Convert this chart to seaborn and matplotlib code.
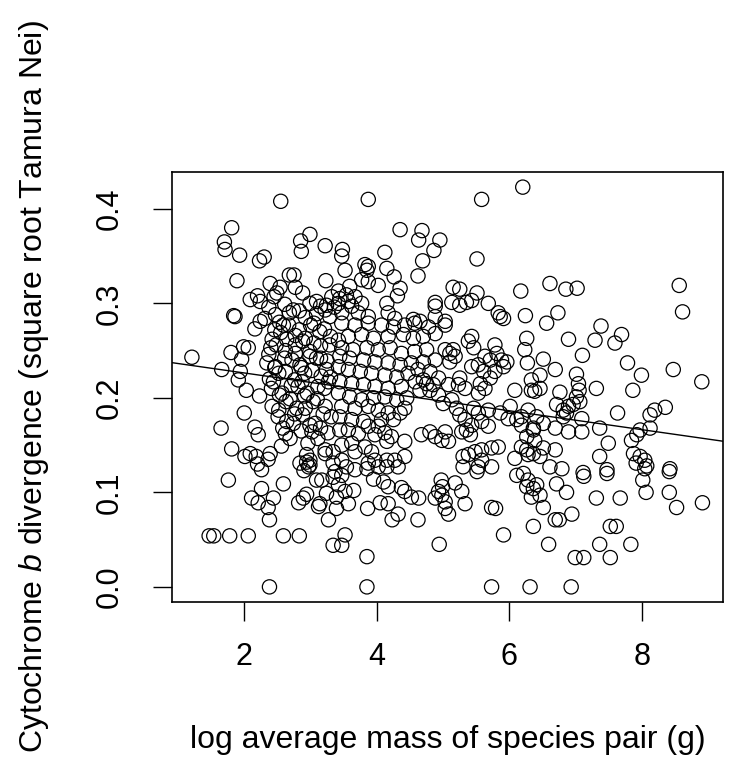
import numpy as np
import pandas as pd
import seaborn as sns
import matplotlib.pyplot as plt

# values, grouped by plot region
top_left_mass = [2.55, 1.81, 1.70, 1.71, 1.93, 2.23, 2.30, 2.85, 2.99, 2.86,
                 3.22, 1.89, 3.23, 2.68, 2.75, 2.39, 2.54, 2.49, 2.77, 2.88,
                 2.09, 2.20, 2.24, 2.45, 1.84, 1.86, 3.09, 3.24, 3.32, 3.42]
top_left_div = [0.408, 0.380, 0.365, 0.357, 0.351, 0.345, 0.349, 0.366, 0.373, 0.355,
                0.361, 0.324, 0.324, 0.330, 0.330, 0.321, 0.317, 0.311, 0.317, 0.311,
                0.304, 0.308, 0.302, 0.307, 0.287, 0.286, 0.302, 0.298, 0.307, 0.300]

top_mid_mass = [3.87, 5.58, 6.20, 4.35, 4.68, 4.63, 4.95, 4.86, 4.12, 4.69,
                4.62, 3.48, 3.47, 3.52, 5.51, 4.15, 3.82, 3.87, 3.85, 3.77,
                3.87, 4.02, 4.26, 4.35, 4.31, 4.15, 3.59, 3.54, 3.44, 3.67,
                4.88, 4.88, 5.15, 5.25, 5.51, 5.13, 5.25, 5.35, 5.43, 5.68,
                5.83, 5.86, 5.91, 6.17, 6.24, 3.47, 3.72, 3.87, 4.17, 4.27,
                4.55, 4.65, 4.88, 5.03, 3.42, 3.57, 3.62, 3.77]
top_mid_div = [0.410, 0.410, 0.423, 0.378, 0.377, 0.367, 0.367, 0.356, 0.354, 0.345,
               0.329, 0.357, 0.350, 0.335, 0.347, 0.337, 0.341, 0.339, 0.335, 0.325,
               0.323, 0.319, 0.328, 0.316, 0.308, 0.300, 0.318, 0.309, 0.305, 0.307,
               0.301, 0.297, 0.317, 0.315, 0.311, 0.301, 0.298, 0.301, 0.303, 0.300,
               0.290, 0.286, 0.284, 0.313, 0.287, 0.290, 0.290, 0.286, 0.290, 0.284,
               0.283, 0.281, 0.286, 0.281, 0.313, 0.302, 0.297, 0.300]

top_right_mass = [6.61, 6.85, 7.02, 8.56, 8.61, 6.73, 6.56, 7.38]
top_right_div = [0.321, 0.315, 0.316, 0.319, 0.291, 0.290, 0.279, 0.276]

mid_left_mass = [1.21, 1.66, 1.80, 1.99, 2.06, 1.96, 1.94, 1.91, 2.03, 2.23,
                 2.34, 2.00, 1.65, 2.16, 2.21, 1.81, 2.01, 2.09, 2.18, 2.36,
                 2.56, 2.20, 2.24, 2.16, 2.94, 2.99, 3.22, 3.34]
mid_left_div = [0.243, 0.230, 0.248, 0.254, 0.253, 0.241, 0.228, 0.219, 0.208, 0.202,
                0.237, 0.184, 0.168, 0.169, 0.161, 0.146, 0.138, 0.141, 0.138, 0.135,
                0.149, 0.130, 0.281, 0.273, 0.132, 0.129, 0.141, 0.143]

low_left_mass = [1.76, 2.26, 2.26, 2.11, 2.21, 2.44, 2.36, 2.38, 2.59, 2.82,
                 2.89, 2.94, 2.90, 2.97, 3.09, 3.17, 3.34, 3.14, 3.12, 3.24,
                 3.27, 3.39, 3.39, 3.34, 1.47, 1.54, 1.78, 2.06, 2.59, 2.83,
                 2.38]
low_left_div = [0.113, 0.124, 0.104, 0.094, 0.089, 0.094, 0.084, 0.071, 0.109, 0.089,
                0.094, 0.098, 0.123, 0.127, 0.113, 0.113, 0.116, 0.088, 0.085, 0.099,
                0.071, 0.095, 0.083, 0.044, 0.054, 0.054, 0.054, 0.054, 0.054, 0.054,
                0.000]

low_mid_mass = [3.37, 3.47, 3.42, 3.52, 3.65, 3.57, 3.67, 3.85, 4.02, 4.15,
                4.32, 3.95, 4.10, 4.17, 4.37, 4.42, 3.86, 4.05, 4.17, 4.32,
                4.23, 4.52, 4.63, 4.62, 4.88, 4.98, 4.93, 5.03, 4.97, 4.99,
                5.18, 5.28, 5.33, 5.03, 5.08, 5.30, 5.51, 5.73, 5.79, 4.94,
                5.91, 3.52, 3.47, 3.85, 3.85, 5.73, 6.31, 6.11, 6.21, 6.28,
                6.26, 6.33]
low_mid_div = [0.122, 0.118, 0.108, 0.101, 0.102, 0.088, 0.124, 0.125, 0.127, 0.127,
               0.127, 0.114, 0.111, 0.106, 0.105, 0.101, 0.083, 0.089, 0.088, 0.077,
               0.071, 0.095, 0.094, 0.071, 0.094, 0.097, 0.101, 0.090, 0.113, 0.106,
               0.110, 0.101, 0.088, 0.083, 0.077, 0.127, 0.122, 0.084, 0.083, 0.045,
               0.055, 0.055, 0.044, 0.032, 0.000, 0.000, 0.000, 0.118, 0.120, 0.113,
               0.106, 0.095]

low_right_mass = [6.93, 6.36, 6.59, 6.99, 7.12, 7.52, 7.36, 7.83, 7.52, 7.61,
                  6.69, 6.75, 6.94, 6.51, 6.46, 6.36, 6.41, 6.71, 6.86, 6.79,
                  7.11, 7.12, 7.47, 7.47, 7.31, 7.67, 8.01, 8.06, 8.04, 8.41,
                  8.41, 8.52, 8.91]
low_right_div = [0.000, 0.064, 0.045, 0.031, 0.031, 0.031, 0.045, 0.045, 0.064, 0.064,
                 0.071, 0.071, 0.077, 0.084, 0.097, 0.104, 0.108, 0.109, 0.100, 0.125,
                 0.121, 0.117, 0.124, 0.120, 0.094, 0.094, 0.113, 0.100, 0.125, 0.122,
                 0.100, 0.084, 0.089]

mid_right_mass = [6.89, 7.29, 7.59, 7.69, 7.10, 6.51, 6.69, 7.78, 7.99, 8.47,
                  8.90, 7.01, 6.46, 7.04, 7.05, 7.01, 7.06, 7.31, 7.86, 6.76,
                  6.46, 6.38, 6.71, 6.81, 6.89, 6.96, 6.81, 6.86, 7.09, 7.63,
                  8.12, 8.19, 8.35, 6.41, 6.51, 6.36, 6.69, 6.89, 7.09, 7.36,
                  7.97, 7.92, 8.12, 7.49, 7.84, 6.38, 6.51, 6.69, 6.46, 7.36,
                  7.87, 7.97, 8.04, 7.91, 8.07, 8.42, 6.61]
mid_right_div = [0.262, 0.261, 0.258, 0.267, 0.245, 0.241, 0.230, 0.237, 0.224, 0.230,
                 0.217, 0.225, 0.224, 0.215, 0.208, 0.201, 0.196, 0.210, 0.208, 0.206,
                 0.210, 0.207, 0.193, 0.187, 0.191, 0.193, 0.180, 0.184, 0.178, 0.184,
                 0.182, 0.187, 0.190, 0.180, 0.173, 0.166, 0.168, 0.164, 0.164, 0.168,
                 0.166, 0.161, 0.168, 0.152, 0.155, 0.155, 0.147, 0.145, 0.138, 0.138,
                 0.141, 0.138, 0.134, 0.131, 0.128, 0.125, 0.127]

mid_centre_mass = [5.43, 5.38, 5.46, 5.78, 5.81, 6.26, 6.23, 6.27, 5.88, 5.96,
                   5.91, 5.63, 5.71, 5.53, 5.43, 5.61, 5.78, 5.71, 5.10, 5.18,
                   5.10, 5.03, 5.15, 5.25, 5.23, 5.33, 5.56, 5.63, 5.53, 6.08,
                   6.33, 6.33, 6.01, 5.46, 5.53, 5.68, 5.86, 5.98, 6.11, 6.18,
                   6.18, 5.20, 5.25, 5.33, 5.43, 5.58, 5.68, 5.28, 5.41, 5.35,
                   6.28, 6.26, 6.36, 4.93, 4.85, 4.80, 5.00, 5.13, 5.08, 4.93,
                   4.75, 4.65, 4.70, 4.58, 4.45, 4.42, 4.35, 4.17, 4.25, 4.07,
                   4.02, 4.12, 3.97, 4.15, 4.22, 4.42, 4.67, 4.80, 4.88, 4.98,
                   5.08, 5.03, 5.30, 5.38, 5.48, 5.58, 5.73, 5.83, 6.18, 6.26,
                   6.28, 6.36, 6.08, 5.58, 5.53, 5.73, 4.42, 4.27, 4.15, 3.97,
                   3.87, 3.47, 3.54]
mid_centre_div = [0.265, 0.260, 0.253, 0.256, 0.247, 0.263, 0.251, 0.237, 0.240, 0.238,
                  0.233, 0.244, 0.240, 0.235, 0.233, 0.228, 0.228, 0.221, 0.247, 0.244,
                  0.238, 0.251, 0.251, 0.221, 0.214, 0.210, 0.215, 0.210, 0.205, 0.208,
                  0.208, 0.219, 0.191, 0.189, 0.184, 0.187, 0.184, 0.178, 0.177, 0.171,
                  0.180, 0.189, 0.182, 0.177, 0.171, 0.175, 0.170, 0.164, 0.161, 0.166,
                  0.187, 0.159, 0.168, 0.221, 0.214, 0.208, 0.194, 0.198, 0.214, 0.203,
                  0.215, 0.208, 0.219, 0.217, 0.200, 0.189, 0.184, 0.184, 0.177, 0.177,
                  0.170, 0.163, 0.161, 0.154, 0.159, 0.154, 0.161, 0.164, 0.159, 0.155,
                  0.154, 0.164, 0.138, 0.140, 0.143, 0.145, 0.147, 0.148, 0.148, 0.145,
                  0.140, 0.141, 0.136, 0.134, 0.127, 0.127, 0.138, 0.134, 0.134, 0.134,
                  0.131, 0.134, 0.127]

centre_upper_mass = [3.47, 3.67, 3.87, 4.07, 4.25, 4.42, 4.57, 4.78, 5.03, 4.88,
                     4.70, 4.55, 4.40, 4.17, 3.95, 3.77, 3.57, 3.42, 3.47, 3.64,
                     3.85, 4.02, 4.20, 4.37, 4.57, 4.75, 4.88, 4.70, 4.52, 4.35,
                     4.17, 3.97, 3.80, 3.59, 3.44, 3.42, 3.57, 3.75, 3.92, 4.12,
                     4.30, 4.47, 4.62, 4.80, 4.37, 4.17, 3.97, 3.80, 3.62, 3.44,
                     3.42, 3.59, 3.77, 3.95, 4.12, 4.30, 3.87, 4.02, 3.67, 3.47,
                     3.44, 3.62, 3.80, 3.57, 3.72, 3.87, 3.44, 3.62, 3.82, 3.47,
                     3.67, 3.92]
centre_upper_div = [0.279, 0.277, 0.279, 0.277, 0.275, 0.277, 0.279, 0.275, 0.277, 0.268,
                    0.265, 0.263, 0.267, 0.265, 0.263, 0.267, 0.265, 0.261, 0.253, 0.251,
                    0.253, 0.251, 0.253, 0.247, 0.249, 0.251, 0.240, 0.238, 0.237, 0.235,
                    0.237, 0.238, 0.240, 0.242, 0.244, 0.233, 0.230, 0.228, 0.226, 0.224,
                    0.222, 0.226, 0.230, 0.228, 0.212, 0.210, 0.212, 0.214, 0.215, 0.217,
                    0.205, 0.201, 0.198, 0.200, 0.201, 0.198, 0.191, 0.187, 0.189, 0.191,
                    0.180, 0.177, 0.175, 0.166, 0.162, 0.170, 0.166, 0.152, 0.148, 0.150,
                    0.143, 0.143]

core_mass = [2.37, 2.61, 2.74, 2.99, 3.15, 3.36, 2.31, 2.53, 2.67, 2.92,
             3.05, 3.29, 2.42, 2.55, 2.77, 2.92, 3.14, 3.30, 2.40, 2.62,
             2.77, 2.99, 3.15, 2.47, 2.72, 2.84, 3.09, 3.25, 2.38, 2.52,
             2.76, 2.91, 3.16, 3.30, 2.41, 2.57, 2.81, 2.95, 3.21, 2.42,
             2.63, 2.79, 3.04, 3.22, 2.51, 2.64, 2.88, 3.07, 3.31, 2.62,
             2.86, 3.02, 3.26, 2.39, 2.94, 3.22, 2.84, 2.99, 3.34,
             2.47, 2.68, 2.83, 3.09, 3.22, 2.46, 2.59, 2.83, 3.00, 3.21,
             2.48, 2.64, 2.88, 3.05, 3.29, 2.37, 2.61, 2.77, 2.99, 3.15,
             2.46, 2.62, 2.86, 3.02, 3.24, 2.44, 2.71, 2.87, 3.11, 3.27,
             2.53, 2.69, 2.91, 3.10, 2.52, 2.76, 2.92, 3.19, 2.58, 2.74,
             2.99, 3.15, 2.69, 2.96, 3.11]
core_div = [0.296, 0.299, 0.293, 0.300, 0.297, 0.296, 0.284, 0.280, 0.277, 0.285,
            0.279, 0.286, 0.262, 0.269, 0.266, 0.263, 0.270, 0.265, 0.253, 0.250,
            0.256, 0.249, 0.255, 0.233, 0.240, 0.235, 0.242, 0.239, 0.220, 0.226,
            0.219, 0.226, 0.223, 0.222, 0.210, 0.205, 0.212, 0.205, 0.210, 0.191,
            0.196, 0.189, 0.196, 0.191, 0.180, 0.175, 0.182, 0.173, 0.180, 0.162,
            0.165, 0.164, 0.163, 0.141, 0.140, 0.145, 0.131, 0.134, 0.131,
            0.288, 0.290, 0.292, 0.289, 0.293, 0.272, 0.277, 0.272, 0.277, 0.273,
            0.256, 0.262, 0.260, 0.258, 0.256, 0.246, 0.242, 0.247, 0.244, 0.242,
            0.232, 0.228, 0.232, 0.229, 0.230, 0.217, 0.213, 0.217, 0.212, 0.217,
            0.203, 0.199, 0.202, 0.199, 0.187, 0.183, 0.189, 0.183, 0.168, 0.173,
            0.171, 0.168, 0.157, 0.152, 0.157]

x_ticks = [2, 4, 6, 8]
y_ticks = [0.0, 0.1, 0.2, 0.3, 0.4]
y_tick_labels = ["0.0", "0.1", "0.2", "0.3", "0.4"]

mass = (top_left_mass + top_mid_mass + top_right_mass + mid_left_mass + low_left_mass
        + low_mid_mass + low_right_mass + mid_right_mass + mid_centre_mass
        + centre_upper_mass + core_mass)
div = (top_left_div + top_mid_div + top_right_div + mid_left_div + low_left_div
       + low_mid_div + low_right_div + mid_right_div + mid_centre_div
       + centre_upper_div + core_div)
df = pd.DataFrame({"mass": mass, "div": div})

sns.set_style("ticks")
plt.rcParams["font.family"] = ["Liberation Sans", "DejaVu Sans"]
plt.rcParams["mathtext.fontset"] = "custom"
plt.rcParams["mathtext.rm"] = "Liberation Sans"
plt.rcParams["mathtext.it"] = "Liberation Sans:italic"
plt.rcParams["text.color"] = "black"
plt.rcParams["axes.labelcolor"] = "black"

fig = plt.figure(figsize=(7.32, 7.77), dpi=100)
ax = fig.add_axes([172 / 732, 175 / 777, 551 / 732, 430 / 777])
ax.set_xlim(0.91, 9.22)
ax.set_ylim(-0.016, 0.439)

sns.scatterplot(data=df, x="mass", y="div", marker="o", s=105,
                facecolors="none", edgecolor="black", linewidth=0.9, ax=ax)
sns.regplot(data=df, x="mass", y="div", scatter=False, ci=None, truncate=False,
            color="black", line_kws={"linewidth": 1.0}, ax=ax)
ax.set_xlim(0.91, 9.22)
ax.set_ylim(-0.016, 0.439)

ax.set_xticks(x_ticks)
ax.set_xticklabels([str(t) for t in x_ticks])
ax.set_yticks(y_ticks)
ax.set_yticklabels(y_tick_labels)
ax.tick_params(direction="out", length=14, width=1, labelsize=22, colors="black")
ax.tick_params(axis="x", pad=15)
ax.tick_params(axis="y", pad=20, labelrotation=90)
for lab in ax.get_yticklabels():
    lab.set_verticalalignment("center")
for sp in ax.spines.values():
    sp.set_visible(True)
    sp.set_linewidth(1.2)
    sp.set_color("black")

ax.set_xlabel("log average mass of species pair (g)", fontsize=23)
ax.set_ylabel(r"Cytochrome $\mathit{b}$ divergence (square root Tamura Nei)", fontsize=23)
ax.xaxis.set_label_coords(0.5, -0.285)
ax.yaxis.set_label_coords(-0.22, 0.5)

fig.savefig("out.png", dpi=100)
